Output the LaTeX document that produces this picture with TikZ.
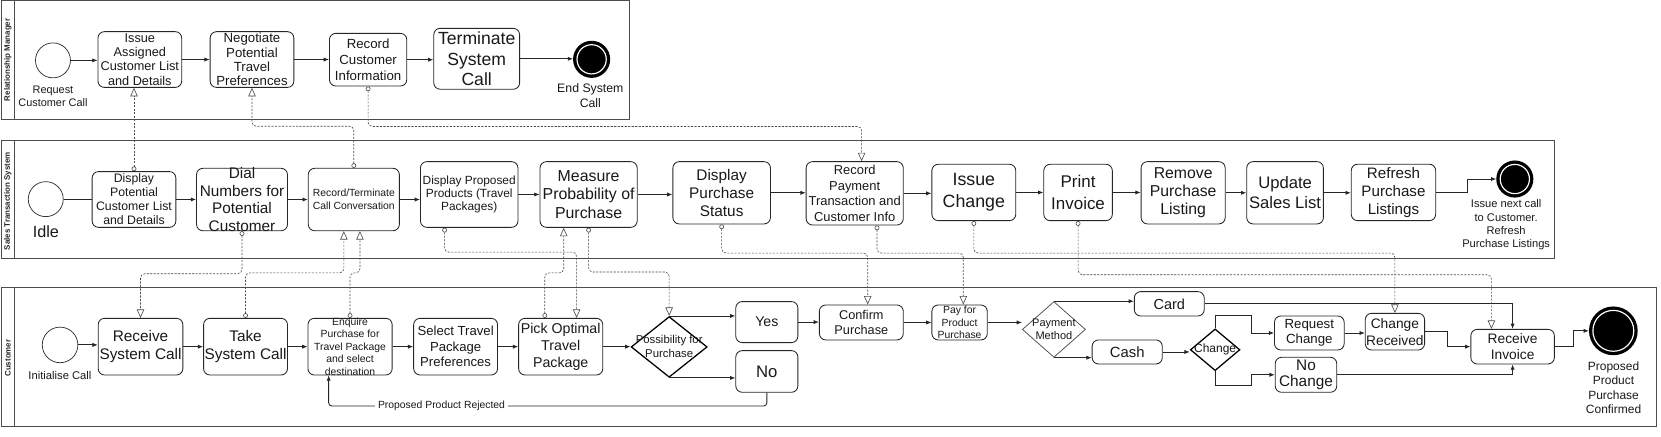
\documentclass[tikz,border=0pt]{standalone}
\usepackage{fontspec}
\setmainfont{Liberation Sans}
\usetikzlibrary{arrows.meta,shapes.geometric}
\newcommand\fz[2]{\fontsize{#1}{#2}\selectfont}
\begin{document}
\begin{tikzpicture}[x=1pt,y=-1pt,
 pool/.style={draw=black!70, line width=0.8pt},
 task/.style={draw=black!85, rounded corners=6pt, line width=0.8pt, fill=white, inner sep=0pt},
 txt/.style={align=center, inner sep=0pt, text=black!90},
 gate/.style={diamond, draw=black, line width=1.2pt, fill=white, inner sep=0pt},
 startev/.style={circle, draw=black!80, line width=0.7pt, fill=white, inner sep=0pt},
 endev/.style={circle, draw=black, fill=black, line width=2pt, inner sep=0pt,
   path picture={\draw[white, line width=1.1pt] (path picture bounding box.center) circle (#1);}},
 flow/.style={draw=black!85, line width=0.8pt, -{Latex[length=5pt,width=4pt]}},
 plain/.style={draw=black!85, line width=0.8pt},
 msg/.style={draw=black!70, line width=0.6pt, dash pattern=on 2pt off 1.3pt, rounded corners=4pt,
   {Circle[open,length=4.5pt,width=4.5pt]}-{Triangle[open,length=8pt,width=7pt]}},
 lane/.style={font=\fz{7.5}{9}\bfseries, rotate=90, inner sep=0pt, text=black!85}
]
\useasboundingbox (0,0) rectangle (1568,412);
% pools
\draw[pool] (1,0.5) rectangle (594.5,112.3);
\draw[pool] (14,0.5) -- (14,112.3);
\draw[pool] (1,132.2) rectangle (1467,243.9);
\draw[pool] (14,132.2) -- (14,243.9);
\draw[pool] (1,271) rectangle (1563.4,402.8);
\draw[pool] (14,271) -- (14,402.8);
\node[lane] (l1) at (7.5,56.5) {Relationship Manager};
\node[lane] (l2) at (7.5,190) {Sales Transaction System};
\node[lane] (l3) at (7.5,338) {Customer};

% top pool
\node[startev, minimum size=33] (s1) at (50,57) {};
\node[txt, font=\fz{10.3}{12.6}] (s1t) at (50,90.6) {Request\\Customer Call};
\node[task, minimum width=79, minimum height=52.6, label={[txt,font=\fz{12}{13.4}]center:Issue\\Assigned\\Customer List\\and Details}] (issue) at (132,56.2) {};
\node[task, minimum width=79, minimum height=52.6, label={[txt,font=\fz{12.5}{13.4}]center:Negotiate\\Potential\\Travel\\Preferences}] (nego) at (237.9,56.2) {};
\node[task, minimum width=73, minimum height=49.7, label={[txt,font=\fz{12.5}{15}]center:Record\\Customer\\Information}] (recinfo) at (347.5,56.35) {};
\node[task, minimum width=81, minimum height=57.5, label={[txt,font=\fz{16.6}{19.7}]center:Terminate\\System\\Call}] (term) at (450,55.5) {};
\node[endev=13.8pt, minimum size=33] (e1) at (558.5,56) {};
\node[txt, font=\fz{11.6}{13.5}] (e1t) at (557.3,90.2) {End System\\Call};

% middle pool
\node[startev, minimum size=33] (idle) at (43.2,188) {};
\node[txt, font=\fz{15.3}{18}] (idlet) at (43.3,218.7) {Idle};
\node[task, minimum width=79, minimum height=52.6, label={[txt,font=\fz{11.6}{13.3}]center:Display\\Potential\\Customer List\\and Details}] (disp) at (126.5,188.3) {};
\node[task, minimum width=85.9, minimum height=58.9, label={[txt,font=\fz{14.5}{16.8}]center:Dial\\Numbers for\\Potential\\Customer}] (dial) at (228.45,188.35) {};
\node[task, minimum width=86, minimum height=58.9, label={[txt,font=\fz{9.8}{12}]center:Record/Terminate\\Call Conversation}] (rect) at (334,188.35) {};
\node[task, minimum width=92.1, minimum height=62, label={[txt,font=\fz{11.2}{12.4}]center:Display Proposed\\Products (Travel\\Packages)}] (dpp) at (442.95,183.6) {};
\node[task, minimum width=91.7, minimum height=62, label={[txt,font=\fz{15}{17.3}]center:Measure\\Probability of\\Purchase}] (meas) at (555.65,183.6) {};
\node[task, minimum width=92.1, minimum height=58.8, label={[txt,font=\fz{14.5}{16.8}]center:Display\\Purchase\\Status}] (dps) at (681.25,182) {};
\node[task, minimum width=91.7, minimum height=59.8, label={[txt,font=\fz{12.2}{14.8}]center:Record\\Payment\\Transaction and\\Customer Info}] (rpt) at (806.85,182.5) {};
\node[task, minimum width=79.2, minimum height=53.2, label={[txt,font=\fz{16.8}{20.5}]center:Issue\\Change}] (ichg) at (919.3,181.7) {};
\node[task, minimum width=64.7, minimum height=53.2, label={[txt,font=\fz{16}{20.5}]center:Print\\Invoice}] (pinv) at (1017.7,181.7) {};
\node[task, minimum width=79.4, minimum height=58.8, label={[txt,font=\fz{14.9}{17.3}]center:Remove\\Purchase\\Listing}] (rpl) at (1116.9,182) {};
\node[task, minimum width=72.4, minimum height=58.8, label={[txt,font=\fz{15.7}{18.9}]center:Update\\Sales List}] (usl) at (1213.1,182) {};
\node[task, minimum width=79.7, minimum height=53.3, label={[txt,font=\fz{14.3}{17.3}]center:Refresh\\Purchase\\Listings}] (rfl) at (1315.45,181.65) {};
\node[endev=13.8pt, minimum size=33] (e2) at (1430,169) {};
\node[txt, font=\fz{10.5}{12.6}] (e2t) at (1421.8,212.4) {Issue next call\\to Customer.\\Refresh\\Purchase Listings};

% bottom pool
\node[startev, minimum size=33.6] (s3) at (56.7,325.6) {};
\node[txt, font=\fz{10.6}{12}] (s3t) at (56.6,354) {Initialise Call};
\node[task, minimum width=79.9, minimum height=53.5, label={[txt,font=\fz{14.5}{16.7}]center:Receive\\System Call}] (recv) at (132.65,327.25) {};
\node[task, minimum width=79.2, minimum height=53.5, label={[txt,font=\fz{14.5}{16.7}]center:Take\\System Call}] (take) at (231.8,327.25) {};
\node[task, minimum width=79.5, minimum height=53.5, label={[txt,font=\fz{9.8}{11.8}]center:Enquire\\Purchase for\\Travel Package\\and select\\destination}] (enq) at (330.45,327.25) {};
\node[task, minimum width=79.2, minimum height=53.5, label={[txt,font=\fz{12.4}{14.6}]center:Select Travel\\Package\\Preferences}] (sel) at (430.1,327.25) {};
\node[task, minimum width=79.4, minimum height=53.5, label={[txt,font=\fz{13.4}{15.9}]center:Pick Optimal\\Travel\\Package}] (pick) at (529.3,327.25) {};
\node[gate, minimum width=71.8, minimum height=57.3, label={[txt,font=\fz{10.7}{13.2}]center:Possibility for\\Purchase}] (dia1) at (631.7,327.5) {};
\node[task, minimum width=58.6, minimum height=38.7, label={[txt,font=\fz{13.3}{16}]center:Yes}] (yes) at (723.9,304.05) {};
\node[task, minimum width=58.6, minimum height=39.3, label={[txt,font=\fz{15.8}{18}]center:No}] (no) at (723.9,350.65) {};
\node[task, minimum width=79.2, minimum height=33, label={[txt,font=\fz{12}{15.1}]center:Confirm\\Purchase}] (conf) at (813.1,304.4) {};
\node[task, minimum width=52.3, minimum height=33, label={[txt,font=\fz{9.8}{11.5}]center:Pay for\\Product\\Purchase}] (pay) at (905.85,304.4) {};
\node[gate, draw=black!70, line width=0.7pt, minimum width=59.6, minimum height=52.6, label={[txt,font=\fz{10.4}{12.6}]center:Payment\\Method}] (dia2) at (994.9,311) {};
\node[task, minimum width=66, minimum height=23, label={[txt,font=\fz{13.7}{16}]center:Card}] (card) at (1103.8,286.8) {};
\node[task, minimum width=66.2, minimum height=22.7, label={[txt,font=\fz{14}{16}]center:Cash}] (cash) at (1064.1,332.25) {};
\node[gate, minimum width=46.8, minimum height=39.4, label={[txt,font=\fz{11.3}{13}]center:Change}] (dia3) at (1147.1,330.2) {};
\node[task, minimum width=65.8, minimum height=32.1, label={[txt,font=\fz{12.5}{14.5}]center:Request\\Change}] (rqc) at (1236,314.35) {};
\node[task, minimum width=56, minimum height=34.6, label={[txt,font=\fz{13}{16}]center:Change\\Received}] (chr) at (1316.8,313.1) {};
\node[task, minimum width=58.1, minimum height=33, label={[txt,font=\fz{14.5}{15.7}]center:No\\Change}] (noc) at (1232.85,353.8) {};
\node[task, minimum width=78.8, minimum height=32.7, label={[txt,font=\fz{13}{15.7}]center:Receive\\Invoice}] (rinv) at (1427.9,327.25) {};
\node[endev=19.3pt, minimum size=44] (e3) at (1523,312.3) {};
\node[txt, font=\fz{11.3}{13.5}] (e3t) at (1523.2,365.9) {Proposed\\Product\\Purchase\\Confirmed};

% sequence flows: top
\draw[flow] (s1.east) -- (s1.east -| issue.west);
\draw[flow] (issue.east) -- (issue.east -| nego.west);
\draw[flow] (nego.east) -- (nego.east -| recinfo.west);
\draw[flow] (recinfo.east) -- (recinfo.east -| term.west);
\draw[flow] (term.east) -- (term.east -| e1.west);
% middle
\draw[plain] (idle.east) -- (idle.east -| disp.west);
\draw[flow] (disp.east) -- (disp.east -| dial.west);
\draw[flow] (dial.east) -- (dial.east -| rect.west);
\draw[flow] (rect.east) -- (rect.east -| dpp.west);
\draw[flow] (dpp.east) -- (dpp.east -| meas.west);
\draw[flow] (meas.east) -- (meas.east -| dps.west);
\draw[flow] (dps.east) -- (dps.east -| rpt.west);
\draw[flow] (rpt.east) -- (rpt.east -| ichg.west);
\draw[flow] (ichg.east) -- (ichg.east -| pinv.west);
\draw[flow] (pinv.east) -- (pinv.east -| rpl.west);
\draw[flow] (rpl.east) -- (rpl.east -| usl.west);
\draw[flow] (usl.east) -- (usl.east -| rfl.west);
\draw[flow] (rfl.east) -- ++(29.7,0) |- (e2.west);
% bottom
\draw[flow] (s3.east) -- (s3.east -| recv.west);
\draw[flow] (recv.east) -- (recv.east -| take.west);
\draw[flow] (take.east) -- (take.east -| enq.west);
\draw[flow] (enq.east) -- (enq.east -| sel.west);
\draw[flow] (sel.east) -- (sel.east -| pick.west);
\draw[flow] (pick.east) -- (pick.east -| dia1.west);
\draw[flow] (dia1.north) -- (dia1.north -| yes.west);
\draw[flow] (dia1.south) -- (dia1.south -| no.west);
\draw[flow] (yes.east) -- (yes.east -| conf.west);
\draw[flow] (conf.east) -- (conf.east -| pay.west);
\draw[flow] (pay.east) -- (pay.east -| dia2.west);
\draw[flow] (dia2.north) -- (dia2.north -| card.west);
\draw[flow] (dia2.south) -- (dia2.south -| cash.west);
\draw[flow] (cash.east) -- (cash.east -| dia3.west);
\draw[flow] (dia3.north) -- ++(0,-12) -| ([xshift=-20.9pt]rqc.west) -- (rqc.west);
\draw[flow] (dia3.south) -- ++(0,13.5) -| ([xshift=-21.6pt]noc.west) -- (noc.west);
\draw[flow] (rqc.east) -- (rqc.east -| chr.west);
\draw[flow] (chr.east) -- ++(21,0) |- (rinv.west);
\draw[flow] (card.east) -| (rinv.north);
\draw[flow] (noc.east) -| (rinv.south);
\draw[flow] (rinv.east) -- ++(17.4,0) |- (e3.west);
\draw[flow, rounded corners=3pt] (no.south) -- ++(0,12.6) -| ([xshift=-20.2pt]enq.south);
\node[txt, fill=white, inner xsep=3pt, inner ysep=1pt, font=\fz{9.8}{11}] (rej) at (416.8,382.9) {Proposed Product Rejected};

% message flows
\draw[msg] (disp.north) -- (disp.north |- issue.south);
\draw[msg] (rect.north) -- ++(0,-39.3) -| (nego.south);
\draw[msg] (recinfo.south) -- ++(0,37.8) -| ([xshift=6.5pt]rpt.north);
\draw[msg] (dial.south) -- ++(0,40.2) -| (recv.north);
\draw[msg] (take.north) -- ++(0,-42.5) -| ([xshift=-9.4pt]rect.south);
\draw[msg] (enq.north) -- ++(0,-42.5) -| ([xshift=5.8pt]rect.south);
\draw[msg] ([xshift=-23.25pt]dpp.south) -- ++(0,23) -| ([xshift=15pt]pick.north);
\draw[msg] ([xshift=-15pt]pick.north) -- ++(0,-42.5) -| ([xshift=-23.5pt]meas.south);
\draw[msg] (meas.south) -- ++(0,41.8) -| (dia1.north);
\draw[msg] (dps.south) -- ++(0,27.1) -| ([xshift=6pt]conf.north);
\draw[msg] ([xshift=21pt]rpt.south) -- ++(0,26.1) -| ([xshift=3.5pt]pay.north);
\draw[msg] (ichg.south) -- ++(0,30.2) -| (chr.north);
\draw[msg] (pinv.south) -- ++(0,50.7) -| ([xshift=-20pt]rinv.north);
\end{tikzpicture}
\end{document}
